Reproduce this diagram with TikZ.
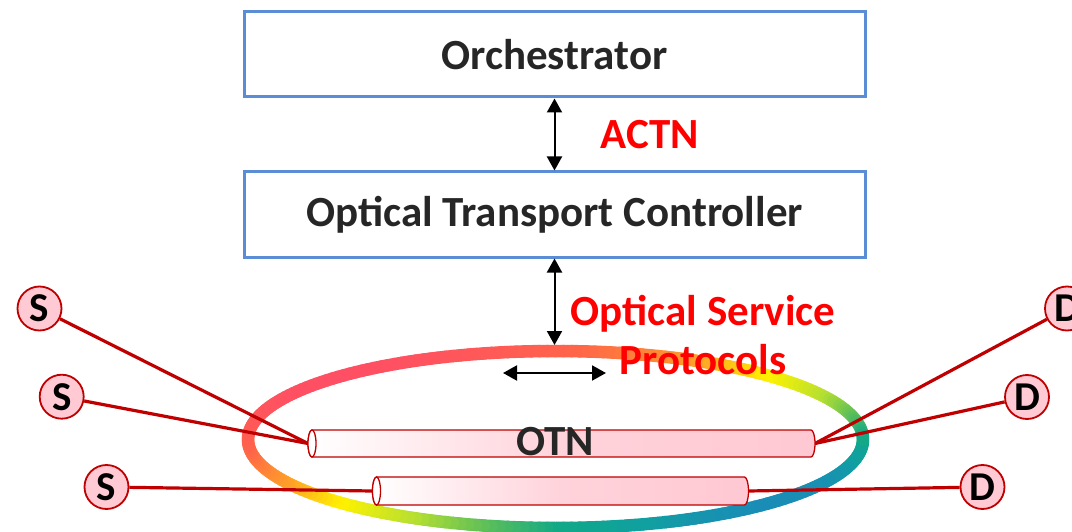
\documentclass[tikz,border=0pt]{standalone}
\usepackage{fontspec}
\setmainfont{Carlito}
\usetikzlibrary{arrows.meta}

\definecolor{boxblue}{HTML}{5A8DD5}
\definecolor{txtdark}{HTML}{262626}
\definecolor{linkred}{HTML}{C00000}
\definecolor{cylpink}{HTML}{FFC8D2}
\definecolor{nodepink}{HTML}{FFCAD3}
% colour stops of the ring gradient (top-left to bottom-right)
\definecolor{rgA}{HTML}{FF4F64}
\definecolor{rgB}{HTML}{FF6648}
\definecolor{rgC}{HTML}{FFA028}
\definecolor{rgD}{HTML}{FFF200}
\definecolor{rgE}{HTML}{B8E030}
\definecolor{rgF}{HTML}{60C058}
\definecolor{rgG}{HTML}{10A888}
\definecolor{rgH}{HTML}{10A0A0}
\definecolor{rgI}{HTML}{1A8CB8}

\newcommand\mixstop[4]{%
  \pgfmathsetmacro\rq{max(0,min(100,(\rs-(#1))/((#2)-(#1))*100))}%
  \colorlet{ringc}{#4!\rq!#3}}
\newcommand\setringcolor[1]{%
  \pgfmathsetmacro\rs{#1}%
  \ifdim\rs pt<-0.45pt \mixstop{-0.71}{-0.45}{rgA}{rgB}\else
  \ifdim\rs pt<-0.2pt \mixstop{-0.45}{-0.2}{rgB}{rgC}\else
  \ifdim\rs pt<0pt \mixstop{-0.2}{0}{rgC}{rgD}\else
  \ifdim\rs pt<0.2pt \mixstop{0}{0.2}{rgD}{rgE}\else
  \ifdim\rs pt<0.36pt \mixstop{0.2}{0.36}{rgE}{rgF}\else
  \ifdim\rs pt<0.5pt \mixstop{0.36}{0.5}{rgF}{rgG}\else
  \ifdim\rs pt<0.62pt \mixstop{0.5}{0.62}{rgG}{rgH}\else
  \mixstop{0.62}{0.71}{rgH}{rgI}\fi\fi\fi\fi\fi\fi\fi}

\tikzset{
  bigfont/.style={font=\fontsize{43}{50}\selectfont\bfseries},
  ctrlbox/.style={draw=boxblue, line width=3pt, minimum width=621pt, minimum height=85pt,
    inner sep=0pt, text=txtdark, bigfont},
  redlabel/.style={text=red, bigfont, align=center},
  biarrow/.style={line width=2pt, {Triangle[width=15pt,length=14pt]}-{Triangle[width=15pt,length=14pt]}},
  ringseg/.style={line width=12.5pt, line cap=round},
  link/.style={draw=linkred, line width=3.2pt},
  endpoint/.style={circle, draw=linkred, line width=1.8pt, fill=nodepink, minimum size=44pt,
    inner sep=0pt, text=black, font=\fontsize{41}{44}\selectfont\bfseries},
  cylbody/.style={draw=linkred, line width=1.3pt, left color=white, right color=cylpink, middle color=cylpink!80!white},
  cylface/.style={draw=linkred, line width=1.3pt, fill=white},
}

\begin{document}
\begin{tikzpicture}[x=1pt, y=1pt]
\useasboundingbox (0,0) rectangle (1072,-532);

% controller stack
\node[ctrlbox] (orch) at (554.5,-54.5) {Orchestrator};
\node[ctrlbox] (otc) at (554.5,-214.5) {Optical Transport Controller};
\node[redlabel] (actn) at (650,-135) {ACTN};

% gradient ring of the optical network
\foreach \t in {0,1.5,...,358.5}{
  \pgfmathsetmacro\ta{\t}
  \pgfmathsetmacro\tb{\t+1.5}
  \pgfmathsetmacro\tm{\t+0.75}
  \setringcolor{(cos(\tm)+sin(\tm))/2}
  \draw[ringseg, draw=ringc] ({555.5+307.5*cos(\ta)},{-439.5-88.5*sin(\ta)})
     -- ({555.5+307.5*cos(\tb)},{-439.5-88.5*sin(\tb)});
}
\coordinate (ringtop) at (554.5,-345);
\coordinate (hl) at (503,-373);
\coordinate (hr) at (606,-373);

\node[redlabel] (osp) at (703,-335) {Optical Service\\[-1pt]Protocols};

% end points
\node[endpoint] (s1) at (39.5,-308.5) {S};
\node[endpoint] (s2) at (61.7,-396.7) {S};
\node[endpoint] (s3) at (106.5,-487) {S};
\node[endpoint] (d1) at (1067,-308.5) {D};
\node[endpoint] (d2) at (1027,-397) {D};
\node[endpoint] (d3) at (982.5,-487) {D};

% fibre pipe ends
\coordinate (c1w) at (308,-443.5);
\coordinate (c1e) at (815,-443.5);
\coordinate (c2w) at (372,-491);
\coordinate (c2e) at (748.5,-491);

\draw[link] (s1) -- (c1w);
\draw[link] (s2) -- (c1w);
\draw[link] (s3) -- (c2w);
\draw[link] (d1) -- (c1e);
\draw[link] (d2) -- (c1e);
\draw[link] (d3) -- (c2e);

% fibre pipes
\shade[cylbody] (312,-430) -- (811,-430) arc[start angle=90, end angle=-90, x radius=4, y radius=13.5]
   -- (312,-457) arc[start angle=270, end angle=90, x radius=4, y radius=13.5] -- cycle;
\draw[cylface] (312,-443.5) ellipse[x radius=4, y radius=13.5];
\shade[cylbody] (376.5,-477) -- (744.5,-477) arc[start angle=90, end angle=-90, x radius=4, y radius=14]
   -- (376.5,-505) arc[start angle=270, end angle=90, x radius=4, y radius=14] -- cycle;
\draw[cylface] (376.5,-491) ellipse[x radius=4, y radius=14];
\node[text=txtdark, bigfont] (otn) at (555,-442) {OTN};

% interfaces
\draw[biarrow] (orch.south) -- (otc.north);
\draw[biarrow] (otc.south) -- (ringtop);
\draw[biarrow] (hl) -- (hr);
\end{tikzpicture}
\end{document}
